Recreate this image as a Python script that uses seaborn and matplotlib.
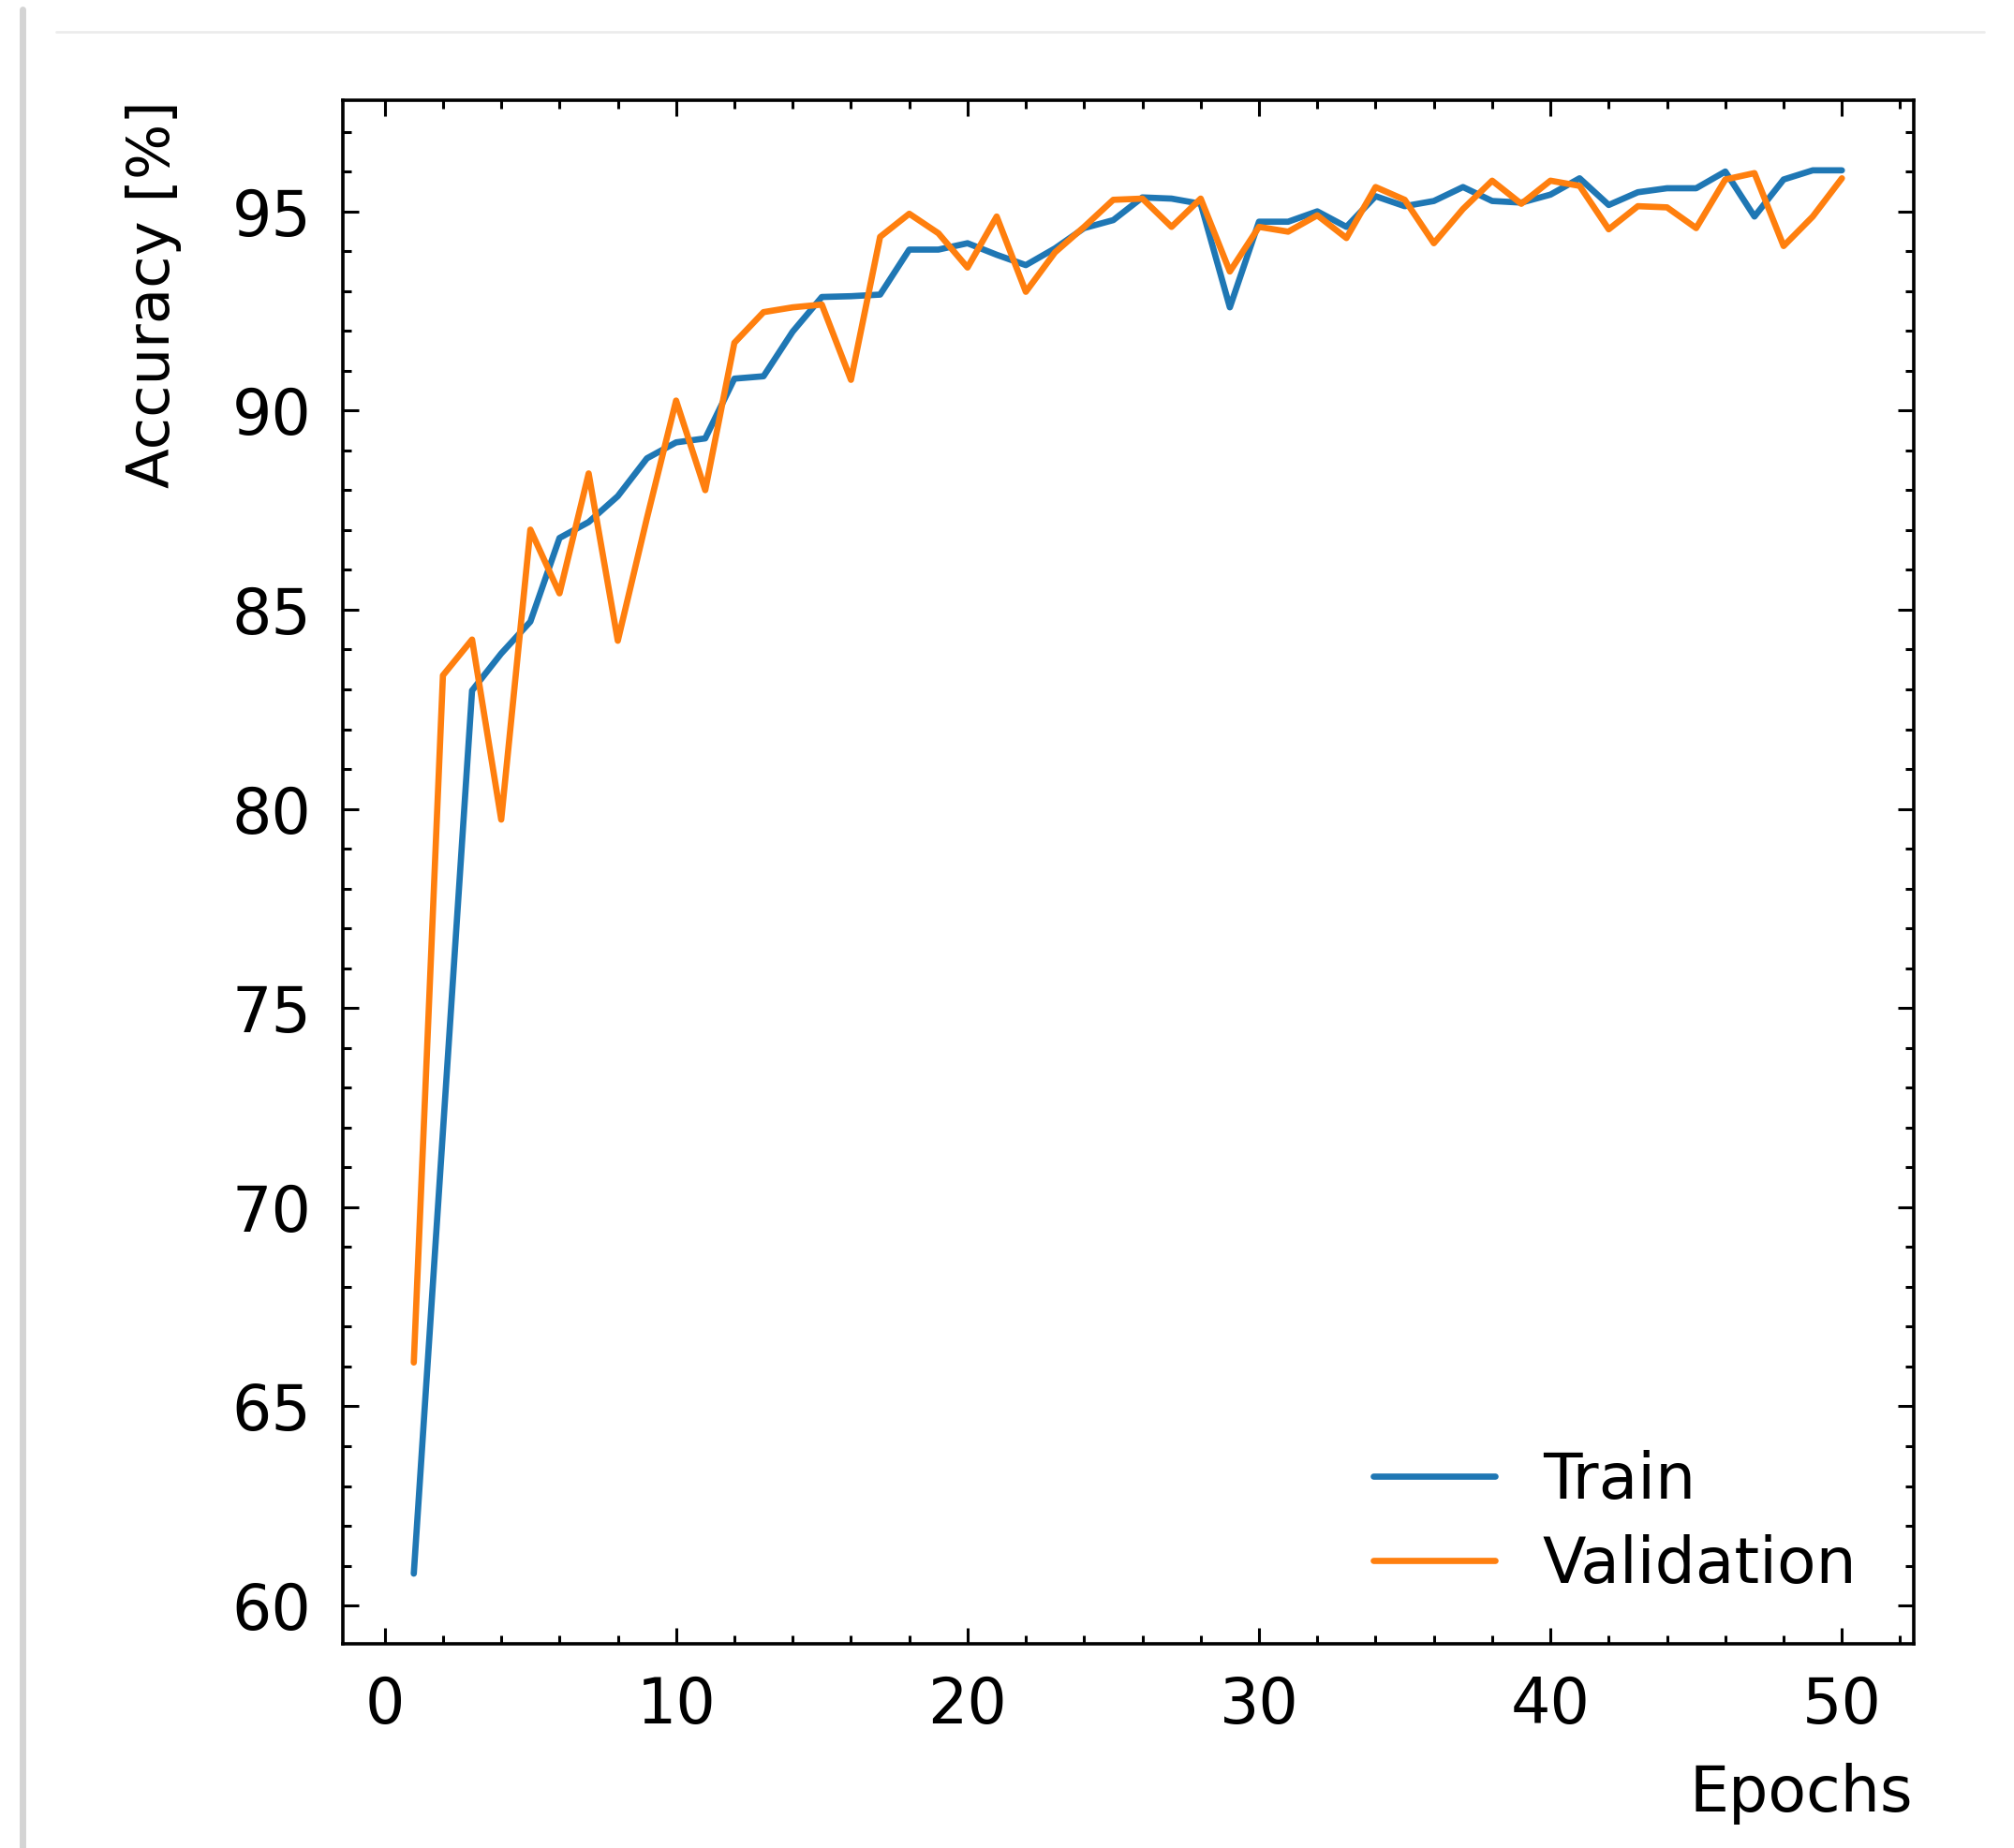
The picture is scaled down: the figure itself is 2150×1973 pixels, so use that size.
import matplotlib
matplotlib.use("Agg")
import matplotlib.pyplot as plt
from matplotlib.lines import Line2D
from matplotlib.ticker import AutoMinorLocator
import numpy as np
import pandas as pd
import seaborn as sns

# accuracy per epoch
epochs = list(range(1, 51))
train_acc = [60.8, 71.9, 82.97, 83.9, 84.7, 86.8, 87.2, 87.85, 88.8, 89.2,
             89.3, 90.8, 90.86, 91.98, 92.85, 92.87, 92.91, 94.04, 94.04, 94.2,
             93.91, 93.65, 94.07, 94.58, 94.78, 95.35, 95.32, 95.19, 92.59, 94.74,
             94.74, 95.0, 94.61, 95.38, 95.13, 95.26, 95.61, 95.26, 95.22, 95.42,
             95.83, 95.16, 95.48, 95.58, 95.58, 96.0, 94.87, 95.8, 96.03, 96.03]
val_acc = [66.1, 83.35, 84.25, 79.73, 87.01, 85.41, 88.42, 84.22, 87.3, 90.25,
           88.0, 91.7, 92.47, 92.59, 92.66, 90.77, 94.36, 94.94, 94.45, 93.59,
           94.87, 92.98, 93.97, 94.61, 95.29, 95.32, 94.61, 95.32, 93.49, 94.61,
           94.49, 94.9, 94.33, 95.61, 95.29, 94.2, 95.06, 95.77, 95.19, 95.77,
           95.64, 94.55, 95.13, 95.1, 94.58, 95.8, 95.96, 94.13, 94.87, 95.83]
series_names = ["Train", "Validation"]

df = pd.DataFrame({
    "Epoch": epochs * 2,
    "Accuracy": train_acc + val_acc,
    "Set": [series_names[0]] * len(epochs) + [series_names[1]] * len(epochs),
})

sns.set_style("ticks")
plt.rcParams["font.family"] = ["DejaVu Sans"]
plt.rcParams["font.size"] = 24
plt.rcParams["axes.linewidth"] = 1.3
plt.rcParams["text.color"] = "black"
plt.rcParams["axes.labelcolor"] = "black"
plt.rcParams["xtick.color"] = "black"
plt.rcParams["ytick.color"] = "black"
plt.rcParams["axes.edgecolor"] = "black"

fig = plt.figure(figsize=(10.75, 9.865), dpi=200)
ax = fig.add_axes([0.170, 0.1105, 0.780, 0.8353])

sns.lineplot(data=df, x="Epoch", y="Accuracy", hue="Set",
             palette=["#1f77b4", "#ff7f0e"], linewidth=2.4, ax=ax)

ax.xaxis.set_minor_locator(AutoMinorLocator(5))
ax.yaxis.set_minor_locator(AutoMinorLocator(5))
ax.tick_params(which="both", direction="in", top=True, right=True,
               width=1.1, labelsize=24, color="black", labelcolor="black")
ax.tick_params(which="major", length=6, pad=12)
ax.tick_params(which="minor", length=3.3)

ax.set_xlabel("Epochs", loc="right", fontsize=24, labelpad=10, color="black")
ax.set_ylabel("Accuracy [%]", loc="top", fontsize=22.5, labelpad=19, color="black")

leg = ax.legend(loc="lower right", bbox_to_anchor=(0.9885, 0.006),
                frameon=False, fontsize=24.5,
                handlelength=1.9, handletextpad=0.75, labelspacing=0.36,
                borderaxespad=0.2)
for t in leg.get_texts():
    t.set_color("black")

# screenshot card edges
fig.add_artist(Line2D([0.011, 0.011], [0.0, 0.995], transform=fig.transFigure,
                      color="#d4d4d4", linewidth=2.5))
fig.add_artist(Line2D([0.028, 0.985], [0.983, 0.983], transform=fig.transFigure,
                      color="#ececec", linewidth=1.0))

fig.savefig("out.png", dpi=200)
